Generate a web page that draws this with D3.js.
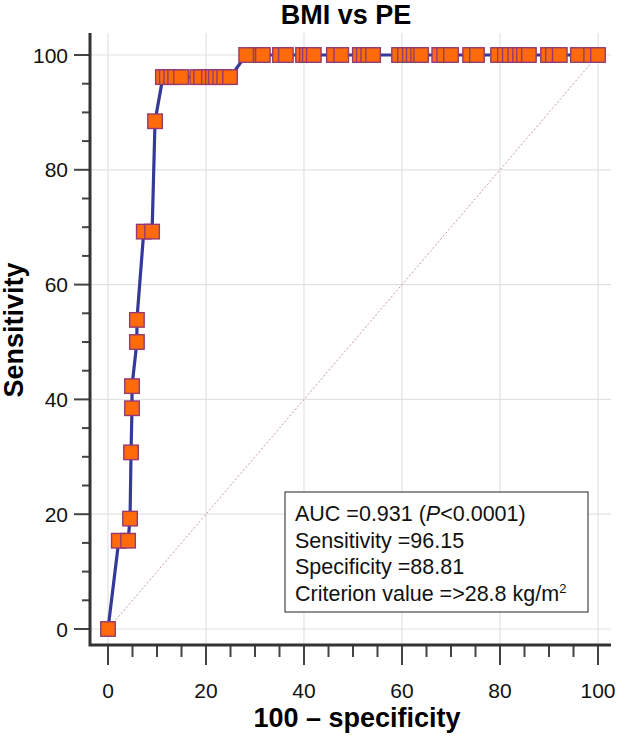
<!DOCTYPE html>
<html>
<head>
<meta charset="utf-8">
<script src="https://cdn.jsdelivr.net/npm/d3@7"></script>
<style>
  body { margin: 0; background: #fff; }
  svg { display: block; font-family: "Liberation Sans", Arial, sans-serif; }
</style>
</head>
<body>
<svg id="chart" width="625" height="736"></svg>
<script>
// ROC points: 100 - specificity (x) and sensitivity (y)
const fpr = [0, 2.2, 4.1, 4.5, 4.7, 4.9, 4.9, 5.9, 5.9, 7.3, 9.0, 9.6,
  11.2, 12.0, 12.9, 13.7, 14.9, 18.2, 19.0, 20.6, 21.4, 22.0, 22.9, 23.7, 24.9,
  28.2, 31.2, 31.6, 35.1, 36.3, 39.8, 40.6, 41.2, 42.0, 46.1, 47.6, 51.4, 52.2, 53.1, 54.1,
  59.4, 60.6, 61.6, 62.4, 63.3, 63.9, 67.6, 68.6, 70.0, 73.9, 75.3, 79.6, 81.0, 82.0,
  83.1, 84.1, 84.9, 85.9, 89.8, 90.8, 92.2, 95.9, 98.6, 100];
const sens = [0, 15.38, 15.38, 19.23, 30.77, 38.46, 42.31, 50, 53.85, 69.23, 69.23, 88.46,
  96.15, 96.15, 96.15, 96.15, 96.15, 96.15, 96.15, 96.15, 96.15, 96.15, 96.15, 96.15, 96.15,
  100, 100, 100, 100, 100, 100, 100, 100, 100, 100, 100, 100, 100, 100, 100,
  100, 100, 100, 100, 100, 100, 100, 100, 100, 100, 100, 100, 100, 100,
  100, 100, 100, 100, 100, 100, 100, 100, 100, 100];
const ticks = [0, 20, 40, 60, 80, 100];
const title = "BMI vs PE";
const xLabel = "100 \u2013 specificity";
const yLabel = "Sensitivity";

const svg = d3.select("#chart");
const x = d3.scaleLinear().domain([0, 100]).range([108, 598]);
const y = d3.scaleLinear().domain([0, 100]).range([629, 55]);
const plotL = 90, plotR = 611, plotT = 33, plotB = 645;

// grid
svg.append("g").selectAll("line").data(ticks).enter().append("line")
  .attr("x1", d => x(d)).attr("x2", d => x(d))
  .attr("y1", plotT).attr("y2", plotB)
  .attr("stroke", "#e2e2e2").attr("stroke-width", 1.2);
svg.append("g").selectAll("line").data(ticks).enter().append("line")
  .attr("x1", plotL).attr("x2", plotR)
  .attr("y1", d => y(d)).attr("y2", d => y(d))
  .attr("stroke", "#e2e2e2").attr("stroke-width", 1.2);

// diagonal reference
svg.append("line")
  .attr("x1", x(0)).attr("y1", y(0)).attr("x2", x(100)).attr("y2", y(100))
  .attr("stroke", "#c99a9a").attr("stroke-width", 1)
  .attr("stroke-dasharray", "2,2");

// axes
const gx = svg.append("g").attr("transform", `translate(0,${plotB})`);
gx.selectAll("line").data(d3.range(0, 101, 5)).enter().append("line")
  .attr("x1", d => x(d)).attr("x2", d => x(d))
  .attr("y1", 0).attr("y2", d => d % 20 === 0 ? 20 : 12)
  .attr("stroke", "#444").attr("stroke-width", 2);
gx.selectAll("text").data(ticks).enter().append("text")
  .attr("x", d => x(d)).attr("y", 53)
  .attr("text-anchor", "middle").attr("font-size", 21).attr("fill", "#111")
  .text(d => d);

const gy = svg.append("g").attr("transform", `translate(${plotL},0)`);
gy.selectAll("line").data(d3.range(0, 101, 5)).enter().append("line")
  .attr("x1", d => d % 20 === 0 ? -16 : -8).attr("x2", 0)
  .attr("y1", d => y(d)).attr("y2", d => y(d))
  .attr("stroke", "#444").attr("stroke-width", 2);
gy.selectAll("text").data(ticks).enter().append("text")
  .attr("x", -22).attr("y", d => y(d) + 7.5)
  .attr("text-anchor", "end").attr("font-size", 21).attr("fill", "#111")
  .text(d => d);

svg.append("path")
  .attr("d", `M${plotL},${plotT}V${plotB}H${plotR}`)
  .attr("fill", "none").attr("stroke", "#333").attr("stroke-width", 3);

// ROC curve
const pts = fpr.map((v, i) => [v, sens[i]]);
svg.append("path").datum(pts)
  .attr("d", d3.line().x(d => x(d[0])).y(d => y(d[1])))
  .attr("fill", "none").attr("stroke", "#35399a").attr("stroke-width", 3.2);

const s = 14.5;
svg.append("g").selectAll("rect").data(pts).enter().append("rect")
  .attr("x", d => x(d[0]) - s / 2).attr("y", d => y(d[1]) - s / 2)
  .attr("width", s).attr("height", s)
  .attr("fill", "#ff6a0a").attr("stroke", "#963a72").attr("stroke-width", 1.4);

// legend box
const box = svg.append("g").attr("transform", "translate(285,492)");
box.append("rect").attr("width", 303).attr("height", 120)
  .attr("fill", "#fff").attr("stroke", "#222").attr("stroke-width", 1);
const lt = box.append("g").attr("font-size", 21.5).attr("fill", "#111");
const l1 = lt.append("text").attr("x", 10).attr("y", 29);
l1.append("tspan").text("AUC =0.931 (");
l1.append("tspan").attr("font-style", "italic").text("P");
l1.append("tspan").text("<0.0001)");
lt.append("text").attr("x", 10).attr("y", 55.5).text("Sensitivity =96.15");
lt.append("text").attr("x", 10).attr("y", 82).text("Specificity =88.81");
const l4 = lt.append("text").attr("x", 10).attr("y", 108.5);
l4.append("tspan").text("Criterion value =>28.8 kg/m");
l4.append("tspan").attr("font-size", 13).attr("dy", -8).text("2");

// titles
svg.append("text").attr("x", 346).attr("y", 24)
  .attr("text-anchor", "middle").attr("font-size", 27).attr("font-weight", "bold")
  .text(title);
svg.append("text").attr("x", 357).attr("y", 727)
  .attr("text-anchor", "middle").attr("font-size", 27).attr("font-weight", "bold")
  .text(xLabel);
svg.append("text").attr("transform", "translate(23,330) rotate(-90)")
  .attr("text-anchor", "middle").attr("font-size", 27).attr("font-weight", "bold")
  .text(yLabel);
</script>
</body>
</html>
